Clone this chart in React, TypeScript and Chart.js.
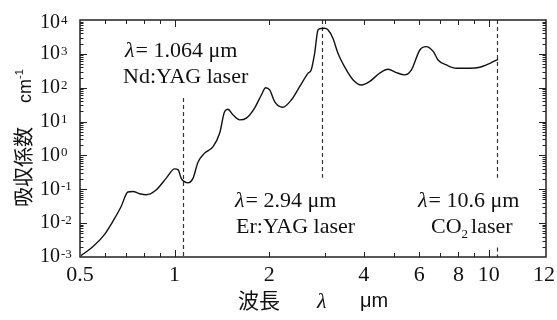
import React, { useEffect, useRef } from 'react';
import { Chart, registerables } from 'chart.js';

Chart.register(...registerables);

// ---- data (water absorption spectrum) ----
const wavelengthUm = [
  0.504, 0.549, 0.598, 0.636, 0.676, 0.71, 0.737, 0.774, 0.813, 0.875, 0.941, 1.0, 1.025, 1.05, 1.063,
  1.102, 1.144, 1.186, 1.246, 1.324, 1.391, 1.443, 1.478, 1.533, 1.611, 1.692, 1.797, 1.888, 1.949,
  2.007, 2.081, 2.21, 2.354, 2.5, 2.66, 2.72, 2.79, 2.86, 2.93, 3.0, 3.08, 3.19, 3.31, 3.52, 3.7, 3.93,
  4.17, 4.49, 4.78, 5.08, 5.4, 5.67, 6.03, 6.31, 6.66, 6.89, 7.33, 7.88, 8.7, 9.36, 10.08, 10.7,
];
const absorptionPerCm = [
  0.0011, 0.002, 0.0046, 0.0112, 0.031, 0.083, 0.086, 0.074, 0.069, 0.097, 0.214, 0.4, 0.38, 0.21, 0.18,
  0.155, 0.21, 0.62, 1.17, 1.8, 4.5, 19.8, 23, 15.8, 11.2, 12.6, 25, 61, 100,
  86, 39, 26.6, 44, 108, 270, 335, 1040, 5070, 5600, 5700, 5070, 2880, 1040, 335, 170, 120,
  151, 268, 351, 279, 240, 335, 1300, 1630, 1160, 660, 470, 376, 376, 403, 526, 692,
];
const laserWavelengths = [1.064, 2.94, 10.6];
const xTickValues = [0.5, 1, 2, 4, 6, 8, 10, 15.2];
const xTickLabels = ['0.5', '1', '2', '4', '6', '8', '10', '12'];
const xMinorTickValues = [0.6, 0.7, 0.8, 0.9, 3, 5, 7, 9];
const yExponents = [-3, -2, -1, 0, 1, 2, 3, 4];

const SERIF = '"Liberation Serif", "DejaVu Serif", serif';
const SANS = '"Liberation Sans", "DejaVu Sans", sans-serif';
const CJK = '"Noto Sans CJK JP", sans-serif';

type Run = { text: string; font: string; dy?: number; gap?: number };

function drawRuns(ctx: CanvasRenderingContext2D, x: number, y: number, runs: Run[]) {
  let cx = x;
  for (const r of runs) {
    ctx.font = r.font;
    ctx.fillText(r.text, cx, y + (r.dy || 0));
    cx += ctx.measureText(r.text).width + (r.gap || 0);
  }
}

const framePlugin = {
  id: 'framePlugin',
  beforeDatasetsDraw(chart: any) {
    const ctx: CanvasRenderingContext2D = chart.ctx;
    const xs = chart.scales.x;
    const ys = chart.scales.y;
    const segs = [
      { x: laserWavelengths[0], y0: 50, y1: 1e-3 },
      { x: laserWavelengths[1], y0: 1e4, y1: 0.22 },
      { x: laserWavelengths[2], y0: 1e4, y1: 0.22 },
      { x: laserWavelengths[2], y0: 0.0019, y1: 1e-3 },
    ];
    ctx.save();
    ctx.strokeStyle = '#333';
    ctx.lineWidth = 1.2;
    ctx.setLineDash([4, 3]);
    for (const s of segs) {
      const px = Math.round(xs.getPixelForValue(s.x)) + 0.5;
      ctx.beginPath();
      ctx.moveTo(px, ys.getPixelForValue(s.y0));
      ctx.lineTo(px, ys.getPixelForValue(s.y1));
      ctx.stroke();
    }
    ctx.restore();
  },
  afterDraw(chart: any) {
    const ctx: CanvasRenderingContext2D = chart.ctx;
    const xs = chart.scales.x;
    const ys = chart.scales.y;
    const { left, right, top, bottom } = chart.chartArea;
    ctx.save();
    ctx.strokeStyle = '#222';
    ctx.fillStyle = '#111';
    ctx.lineWidth = 1.5;
    ctx.setLineDash([]);
    ctx.strokeRect(left, top, right - left, bottom - top);

    ctx.lineWidth = 1;
    const vTick = (v: number, len: number) => {
      const px = Math.round(xs.getPixelForValue(v)) + 0.5;
      ctx.beginPath();
      ctx.moveTo(px, bottom);
      ctx.lineTo(px, bottom - len);
      ctx.moveTo(px, top);
      ctx.lineTo(px, top + len);
      ctx.stroke();
    };
    xTickValues.forEach((v, i) => {
      if (i === 0 || i === xTickValues.length - 1) return;
      vTick(v, v === 1 || v === 10 ? 7 : 5);
    });
    xMinorTickValues.forEach((v) => vTick(v, 4));

    const hTick = (v: number, len: number) => {
      const py = Math.round(ys.getPixelForValue(v)) + 0.5;
      ctx.beginPath();
      ctx.moveTo(left, py);
      ctx.lineTo(left + len, py);
      ctx.moveTo(right, py);
      ctx.lineTo(right - len, py);
      ctx.stroke();
    };
    for (let k = yExponents[0]; k < yExponents[yExponents.length - 1]; k++) {
      if (k !== yExponents[0]) hTick(Math.pow(10, k), 7);
      for (let m = 2; m <= 9; m++) hTick(m * Math.pow(10, k), 3.5);
    }

    // x tick labels
    ctx.font = `22px ${SERIF}`;
    ctx.textAlign = 'center';
    ctx.textBaseline = 'alphabetic';
    xTickValues.forEach((v, i) => {
      let px = xs.getPixelForValue(v);
      if (i === xTickValues.length - 1) px -= 2;
      ctx.fillText(xTickLabels[i], px, bottom + 24);
    });

    // y tick labels 10^n
    ctx.textAlign = 'left';
    yExponents.forEach((e) => {
      let py = ys.getPixelForValue(Math.pow(10, e));
      if (e === yExponents[yExponents.length - 1]) py += 3;
      ctx.font = `20px ${SERIF}`;
      ctx.textBaseline = 'middle';
      ctx.fillText('10', 40, py);
      const w = ctx.measureText('10').width;
      ctx.font = `13px ${SERIF}`;
      ctx.textBaseline = 'alphabetic';
      ctx.fillText(String(e), 40 + w + 1, py + 1);
    });

    // annotations
    ctx.textBaseline = 'alphabetic';
    const lam = (x: number, y: number, val: string) =>
      drawRuns(ctx, x, y, [
        { text: 'λ', font: `italic 22px ${SERIF}`, gap: 1 },
        { text: '= ' + val + ' ', font: `22px ${SERIF}` },
        { text: 'μm', font: `22px ${SERIF}` },
      ]);
    lam(125, 57, '1.064');
    drawRuns(ctx, 123, 83, [{ text: 'Nd:YAG laser', font: `22px ${SERIF}` }]);
    lam(235, 207, '2.94');
    drawRuns(ctx, 236, 233, [{ text: 'Er:YAG laser', font: `22px ${SERIF}` }]);
    lam(418, 207, '10.6');
    drawRuns(ctx, 431, 233, [
      { text: 'CO', font: `22px ${SERIF}` },
      { text: '2', font: `13px ${SERIF}`, dy: 5, gap: 3 },
      { text: 'laser', font: `22px ${SERIF}` },
    ]);

    // x axis title
    drawRuns(ctx, 238, 308, [{ text: '波長', font: `21px ${CJK}` }]);
    drawRuns(ctx, 317, 308, [{ text: 'λ', font: `italic 22px ${SERIF}` }]);
    drawRuns(ctx, 360, 307, [{ text: 'μm', font: `20px ${SANS}` }]);

    // y axis title (rotated)
    ctx.save();
    ctx.translate(31, 0);
    ctx.rotate(-Math.PI / 2);
    drawRuns(ctx, -207, 0, [
      { text: '吸収係数', font: `20px ${CJK}`, gap: 24 },
      { text: 'cm', font: `18px ${SANS}` },
      { text: '-1', font: `11px ${SANS}`, dy: -8 },
    ]);
    ctx.restore();

    ctx.restore();
  },
};

export default function App() {
  const canvasRef = useRef<HTMLCanvasElement | null>(null);

  useEffect(() => {
    document.body.style.margin = '0';
    const canvas = canvasRef.current;
    if (!canvas) return;
    let chart: Chart | null = null;
    let cancelled = false;
    const build = () => {
      if (cancelled) return;
      const points = wavelengthUm.map((x, i) => ({ x, y: absorptionPerCm[i] }));
      chart = new Chart(canvas, {
        type: 'scatter',
        data: {
          datasets: [
            {
              data: points,
              showLine: true,
              borderColor: '#111',
              borderWidth: 1.4,
              pointRadius: 0,
              cubicInterpolationMode: 'monotone',
            } as any,
          ],
        },
        options: {
          animation: false,
          responsive: false,
          devicePixelRatio: 1,
          layout: { padding: { left: 80, right: 11, top: 20, bottom: 63 } },
          plugins: { legend: { display: false }, tooltip: { enabled: false } },
          scales: {
            x: { type: 'logarithmic', min: 0.5, max: 15.2, display: false },
            y: { type: 'logarithmic', min: 1e-3, max: 1e4, display: false },
          },
        },
        plugins: [framePlugin],
      });
    };
    const fonts: any = (document as any).fonts;
    if (fonts && fonts.load) {
      Promise.all([
        fonts.load('22px "Liberation Serif"'),
        fonts.load('italic 22px "Liberation Serif"'),
        fonts.load('20px "Liberation Sans"'),
        fonts.load('20px "Noto Sans CJK JP"', '吸収係数波長'),
      ])
        .catch(() => undefined)
        .then(build);
    } else {
      build();
    }
    return () => {
      cancelled = true;
      if (chart) chart.destroy();
    };
  }, []);

  return (
    <div style={{ width: 557, height: 320, background: '#fff' }}>
      <canvas ref={canvasRef} width={557} height={320} style={{ display: 'block' }} />
    </div>
  );
}
